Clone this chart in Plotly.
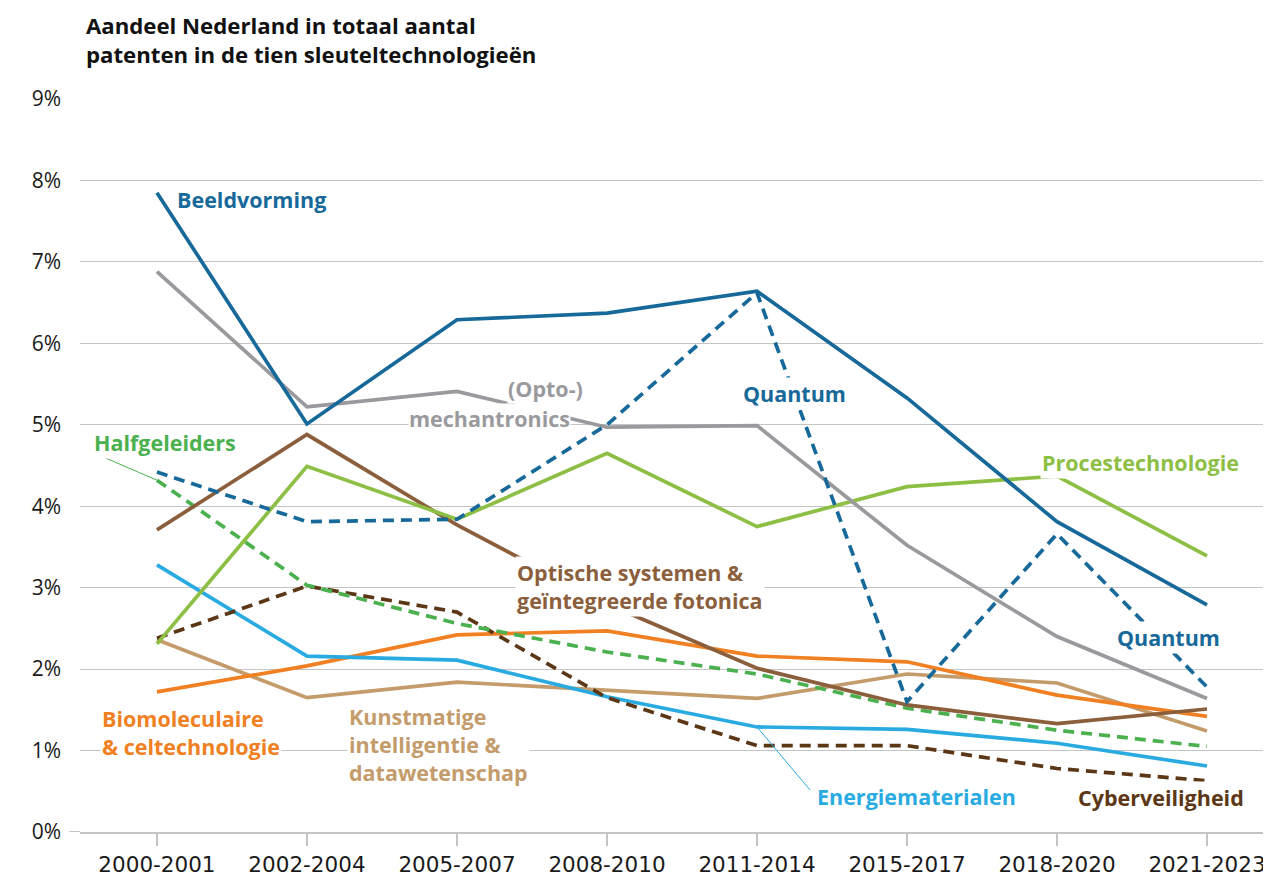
import plotly.graph_objects as go

periods = ["2000-2001", "2002-2004", "2005-2007", "2008-2010", "2011-2014", "2015-2017", "2018-2020", "2021-2023"]
y_ticks = [0, 1, 2, 3, 4, 5, 6, 7, 8, 9]

beeldvorming = [7.85, 5.01, 6.29, 6.37, 6.64, 5.33, 3.81, 2.79]
quantum = [4.42, 3.81, 3.84, 5.00, 6.62, 1.60, 3.66, 1.78]
opto_mechatronics = [6.88, 5.22, 5.41, 4.97, 4.99, 3.52, 2.40, 1.64]
procestechnologie = [2.31, 4.49, 3.84, 4.65, 3.75, 4.24, 4.37, 3.39]
halfgeleiders = [4.32, 3.03, 2.56, 2.21, 1.94, 1.52, 1.25, 1.05]
optische_systemen = [3.71, 4.88, 3.77, 2.80, 2.01, 1.56, 1.33, 1.51]
cyberveiligheid = [2.38, 3.02, 2.70, 1.65, 1.06, 1.06, 0.78, 0.63]
biomoleculair = [1.72, 2.04, 2.42, 2.47, 2.16, 2.09, 1.68, 1.42]
kunstmatige_intelligentie = [2.36, 1.65, 1.84, 1.74, 1.64, 1.94, 1.83, 1.24]
energiematerialen = [3.28, 2.16, 2.11, 1.66, 1.29, 1.26, 1.09, 0.81]

C_BLUE = "#17699a"
C_GRAY = "#9a9a9e"
C_PROC = "#8cbf44"
C_HALF = "#4bb14f"
C_OPT = "#8b5e3c"
C_CYB = "#5b3716"
C_BIO = "#f08022"
C_KI = "#c49b6b"
C_EN = "#29abe2"
C_GRID = "#c4c4c4"

FONT = "Open Sans"
TICKFONT = "DejaVu Sans"
xs = list(range(len(periods)))

series = [
    ("Kunstmatige intelligentie & datawetenschap", kunstmatige_intelligentie, C_KI, "solid"),
    ("Biomoleculaire & celtechnologie", biomoleculair, C_BIO, "solid"),
    ("Energiematerialen", energiematerialen, C_EN, "solid"),
    ("Cyberveiligheid", cyberveiligheid, C_CYB, "11px,7px"),
    ("Halfgeleiders", halfgeleiders, C_HALF, "11px,7px"),
    ("Optische systemen & geïntegreerde fotonica", optische_systemen, C_OPT, "solid"),
    ("Procestechnologie", procestechnologie, C_PROC, "solid"),
    ("(Opto-)mechatronics", opto_mechatronics, C_GRAY, "solid"),
    ("Quantum", quantum, C_BLUE, "11px,7px"),
    ("Beeldvorming", beeldvorming, C_BLUE, "solid"),
]

fig = go.Figure()
for name, vals, color, dash in series:
    fig.add_trace(go.Scatter(x=xs, y=vals, mode="lines", name=name,
                             line=dict(color=color, width=3.7, dash=dash),
                             hoverinfo="skip"))


def lab(text, x, y, color, xanchor="left", align="left", pad=1):
    fig.add_annotation(text="<b>" + text + "</b>", x=x, y=y, xref="x", yref="y",
                       xanchor=xanchor, yanchor="middle", align=align, showarrow=False,
                       font=dict(family=FONT, size=21.5, color=color),
                       bgcolor="white", borderpad=pad)


lab("Beeldvorming", 0.12, 7.76, C_BLUE)
lab("mechantronics", 2.76, 5.08, C_GRAY, xanchor="right", pad=0)
lab("(Opto-)", 2.85, 5.44, C_GRAY, xanchor="right", pad=0)
lab("Quantum", 4.25, 5.39, C_BLUE, xanchor="center")
lab("Procestechnologie", 5.89, 4.54, C_PROC)
lab("Quantum", 6.39, 2.39, C_BLUE)
lab("Halfgeleiders", -0.43, 4.78, C_HALF)
lab("Optische systemen &<br>geïntegreerde fotonica", 2.39, 3.02, C_OPT)
lab("Biomoleculaire<br>& celtechnologie", -0.38, 1.22, C_BIO)
lab("Kunstmatige<br>intelligentie &<br>datawetenschap", 1.27, 1.07, C_KI)
lab("Energiematerialen", 4.39, 0.43, C_EN)
lab("Cyberveiligheid", 6.13, 0.42, C_CYB)

# leader lines
fig.add_shape(type="line", xref="x", yref="y", xsizemode="pixel", ysizemode="pixel",
              xanchor=0, yanchor=halfgeleiders[0], x0=0, y0=0, x1=-58, y1=25,
              line=dict(color=C_HALF, width=1))
fig.add_shape(type="line", xref="x", yref="y", xsizemode="pixel", ysizemode="pixel",
              xanchor=4, yanchor=energiematerialen[4], x0=0, y0=0, x1=53, y1=-63,
              line=dict(color=C_EN, width=1))
# baseline extends slightly left of the plot area
fig.add_shape(type="line", xref="paper", yref="y", x0=-0.009, x1=0.0, y0=0, y1=0,
              line=dict(color=C_GRID, width=2), layer="below")

# title
fig.add_annotation(text="<b>Aandeel Nederland in totaal aantal<br>patenten in de tien sleuteltechnologieën</b>",
                   xref="paper", yref="paper", x=0.003, y=1.124, xanchor="left", yanchor="top",
                   align="left", showarrow=False,
                   font=dict(family=FONT, size=22.2, color="#111111"))

fig.update_layout(
    width=1271, height=885,
    margin=dict(l=72, r=0, t=91, b=61),
    paper_bgcolor="white", plot_bgcolor="white",
    showlegend=False,
    font=dict(family=FONT, color="#1a1a1a"),
)
fig.update_xaxes(range=[-0.513, 7.48], tickvals=xs, ticktext=periods,
                 showgrid=False, zeroline=False,
                 showline=True, linecolor=C_GRID, linewidth=2,
                 ticks="outside", ticklen=12, tickwidth=1.5, tickcolor=C_GRID,
                 tickfont=dict(family=TICKFONT, size=21.5, color="#1a1a1a"))
fig.update_yaxes(range=[0, 9], tickvals=y_ticks, ticktext=[f"{v}%" for v in y_ticks],
                 showgrid=True, gridcolor=C_GRID, gridwidth=1, zeroline=False,
                 ticks="", ticklabelstandoff=18,
                 tickfont=dict(family=FONT, size=21, color="#1a1a1a"))

fig.write_html("out.html")
